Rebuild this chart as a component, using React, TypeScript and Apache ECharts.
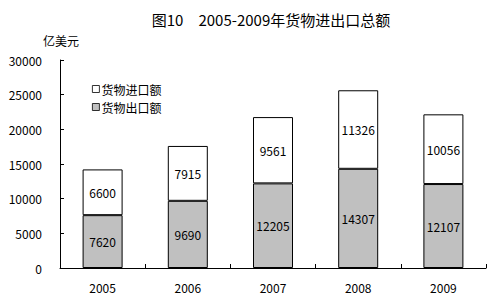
import React, { useEffect, useRef } from "react";
import * as echarts from "echarts";

const years = ["2005", "2006", "2007", "2008", "2009"];
const exportValues = [7620, 9690, 12205, 14307, 12107];
const importValues = [6600, 7915, 9561, 11326, 10056];
const titleText = "图10　2005-2009年货物进出口总额";
const unitText = "亿美元";
const exportName = "货物出口额";
const importName = "货物进口额";

const FONT = "'Noto Sans CJK SC', sans-serif";

export default function App() {
  const ref = useRef<HTMLDivElement>(null);
  useEffect(() => {
    if (!ref.current) return;
    const chart = echarts.init(ref.current, null, { renderer: "svg" });
    chart.setOption({
      animation: false,
      backgroundColor: "#ffffff",
      textStyle: { fontFamily: FONT, color: "#000" },
      title: {
        text: titleText,
        left: 266,
        textAlign: "center",
        top: 7,
        textStyle: { fontSize: 15, fontWeight: "normal", color: "#000", fontFamily: FONT },
      },
      graphic: [
        {
          type: "text",
          left: 43,
          top: 34,
          style: { text: unitText, fontSize: 12, fill: "#000", fontFamily: FONT },
        },
      ],
      legend: {
        orient: "vertical",
        left: 87,
        top: 78,
        itemWidth: 7,
        itemHeight: 7,
        itemGap: 6,
        icon: "rect",
        data: [importName, exportName],
        itemStyle: { borderWidth: 0.8, borderColor: "#000" },
        textStyle: { fontSize: 12, color: "#000", fontFamily: FONT, padding: [0, 0, 0, -3] },
      },
      grid: { left: 60, right: 8, top: 60, bottom: 31, containLabel: false },
      xAxis: {
        type: "category",
        data: years,
        axisLine: { lineStyle: { color: "#000", width: 1 } },
        axisTick: { show: true, inside: true, length: 4, lineStyle: { color: "#000" } },
        axisLabel: { color: "#000", fontSize: 12, margin: 13, fontFamily: FONT },
      },
      yAxis: {
        type: "value",
        min: 0,
        max: 30000,
        interval: 5000,
        splitLine: { show: false },
        axisLine: { show: true, lineStyle: { color: "#000", width: 1 } },
        axisTick: { show: true, inside: true, length: 4, lineStyle: { color: "#000" } },
        axisLabel: {
          color: "#000",
          fontSize: 12,
          margin: 18,
          fontFamily: FONT,
          formatter: (v: number) => String(v),
        },
      },
      series: [
        {
          name: exportName,
          type: "bar",
          stack: "total",
          barWidth: 40,
          data: exportValues,
          itemStyle: { color: "#c0c0c0", borderColor: "#000", borderWidth: 1 },
          label: { show: true, position: "inside", color: "#000", fontSize: 12, fontFamily: FONT },
        },
        {
          name: importName,
          type: "bar",
          stack: "total",
          barWidth: 40,
          data: importValues,
          itemStyle: { color: "#ffffff", borderColor: "#000", borderWidth: 1 },
          label: { show: true, position: "inside", color: "#000", fontSize: 12, fontFamily: FONT },
        },
      ],
    });
    return () => chart.dispose();
  }, []);
  return <div ref={ref} style={{ width: 494, height: 299, position: "absolute", left: 0, top: 0 }} />;
}
